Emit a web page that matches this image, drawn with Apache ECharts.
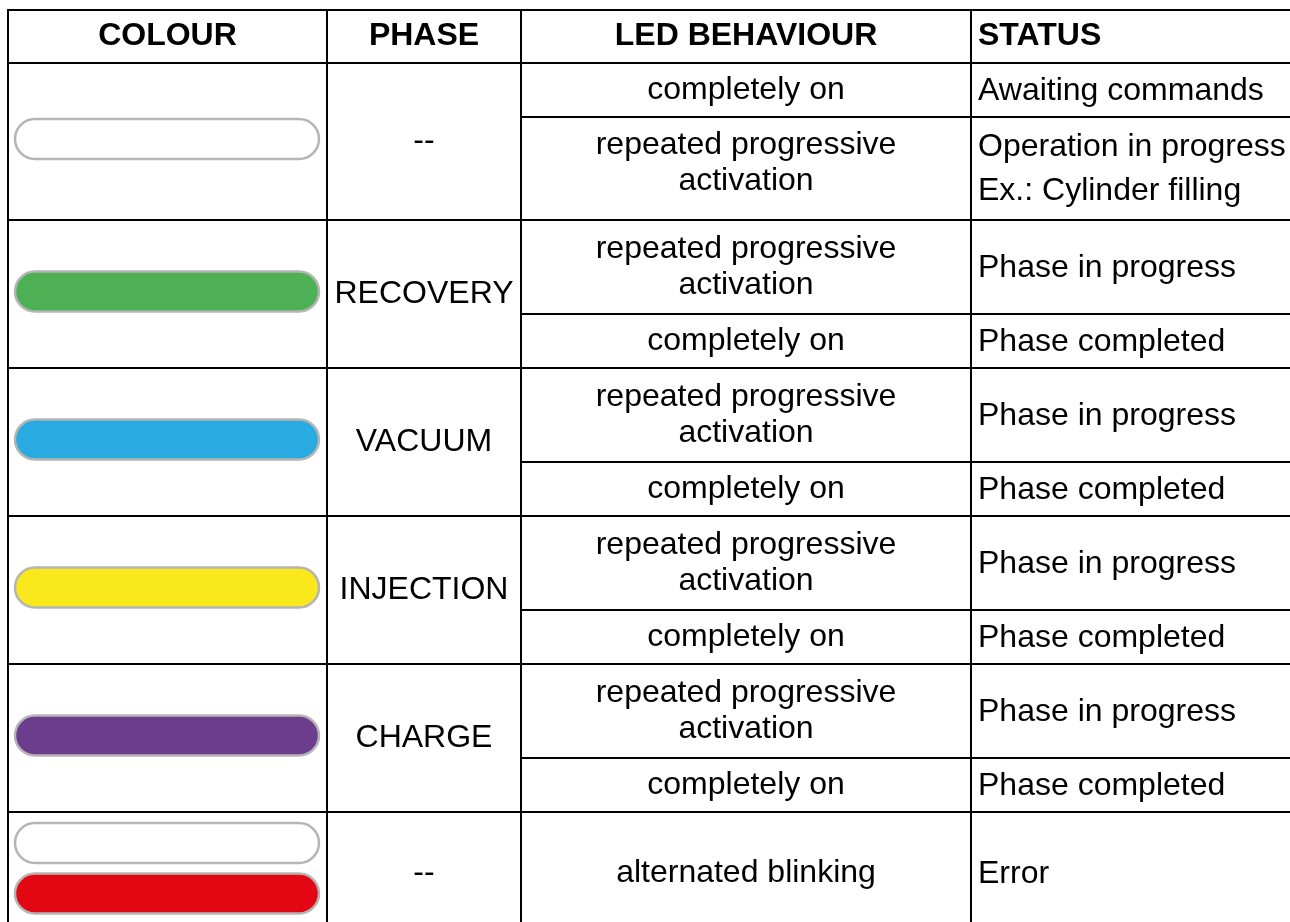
<!DOCTYPE html>
<html><head><meta charset="utf-8">
<script src="https://cdn.jsdelivr.net/npm/echarts@6/dist/echarts.min.js"></script>
<style>html,body{margin:0;padding:0;background:#fff}#c{width:1290px;height:922px}</style>
</head><body><div id="c"></div><script>
// ---- data ----
const headers = ['COLOUR', 'PHASE', 'LED BEHAVIOUR', 'STATUS'];
const phases = ['--', 'RECOVERY', 'VACUUM', 'INJECTION', 'CHARGE', '--'];
const ledColours = [['#ffffff'], ['#4eb055'], ['#29abe2'], ['#f8e81c'], ['#6b3d8c'], ['#ffffff', '#e30613']];
const behaviours = [
  ['completely on', 'repeated progressive\nactivation'],
  ['repeated progressive\nactivation', 'completely on'],
  ['repeated progressive\nactivation', 'completely on'],
  ['repeated progressive\nactivation', 'completely on'],
  ['repeated progressive\nactivation', 'completely on'],
  ['alternated blinking']
];
const statuses = [
  ['Awaiting commands', 'Operation in progress\nEx.: Cylinder filling'],
  ['Phase in progress', 'Phase completed'],
  ['Phase in progress', 'Phase completed'],
  ['Phase in progress', 'Phase completed'],
  ['Phase in progress', 'Phase completed'],
  ['Error']
];

// ---- layout (axis units = pixels of the table space) ----
const colEdges = [8, 327, 521, 971, 1320];
const rowEdges = [10, 63, 117, 220, 314, 368, 462, 516, 610, 664, 758, 812, 934];
const ledTextShift = { 2: -5 };   // table row index -> vertical nudge of LED text
const FONT = "'Liberation Sans', Arial, Helvetica, sans-serif";

const cells = [];
headers.forEach((h, c) => {
  cells.push({ v: [colEdges[c], rowEdges[0], colEdges[c + 1], rowEdges[1]], text: h, bold: true, align: c === 3 ? 'left' : 'center' });
});
let r = 1;
phases.forEach((p, g) => {
  const n = behaviours[g].length;
  const y0 = rowEdges[r], y1 = rowEdges[r + n];
  cells.push({ v: [colEdges[0], y0, colEdges[1], y1], pills: ledColours[g] });
  cells.push({ v: [colEdges[1], y0, colEdges[2], y1], text: p, align: 'center' });
  for (let i = 0; i < n; i++) {
    cells.push({ v: [colEdges[2], rowEdges[r + i], colEdges[3], rowEdges[r + i + 1]], text: behaviours[g][i], align: 'center', lh: 36, dy: ledTextShift[r + i] || 0 });
    cells.push({ v: [colEdges[3], rowEdges[r + i], colEdges[4], rowEdges[r + i + 1]], text: statuses[g][i], align: 'left', lh: 44, dy: 1 });
  }
  r += n;
});

function renderItem(params, api) {
  const cell = cells[params.dataIndex];
  const p0 = api.coord([api.value(0), api.value(1)]);
  const p1 = api.coord([api.value(2), api.value(3)]);
  const x = p0[0], y = p0[1], w = p1[0] - p0[0], h = p1[1] - p0[1];
  const children = [{
    type: 'rect', shape: { x: x, y: y, width: w, height: h },
    style: { fill: 'none', stroke: '#000', lineWidth: 2 }
  }];
  if (cell.pills) {
    const ph = 40, px0 = x + 7, pw = w - 15;
    const centers = cell.pills.length === 1 ? [y + h / 2 - 2.5] : [y + 31, y + 81.5];
    cell.pills.forEach((col, i) => {
      children.push({
        type: 'rect', shape: { x: px0, y: centers[i] - ph / 2, width: pw, height: ph, r: ph / 2 },
        style: { fill: col, stroke: '#b5b5b5', lineWidth: 2.5 }
      });
    });
  }
  if (cell.text) {
    children.push({
      type: 'text',
      style: {
        text: cell.text,
        x: cell.align === 'left' ? x + 7 : x + w / 2,
        y: y + h / 2 + (cell.dy || 0),
        align: cell.align, verticalAlign: 'middle',
        fill: '#000', fontSize: 32, fontFamily: FONT,
        fontWeight: cell.bold ? 'bold' : 'normal',
        lineHeight: cell.lh || 36
      }
    });
  }
  return { type: 'group', children: children };
}

const chart = echarts.init(document.getElementById('c'), null, { renderer: 'canvas' });
chart.setOption({
  animation: false,
  backgroundColor: '#fff',
  grid: { left: 0, right: 0, top: 0, bottom: 0 },
  xAxis: { type: 'value', min: 0, max: 1290, show: false },
  yAxis: { type: 'value', min: 0, max: 922, inverse: true, show: false },
  series: [{
    type: 'custom',
    renderItem: renderItem,
    clip: false,
    encode: { x: [0, 2], y: [1, 3] },
    data: cells.map(c => c.v)
  }]
});
</script></body></html>
